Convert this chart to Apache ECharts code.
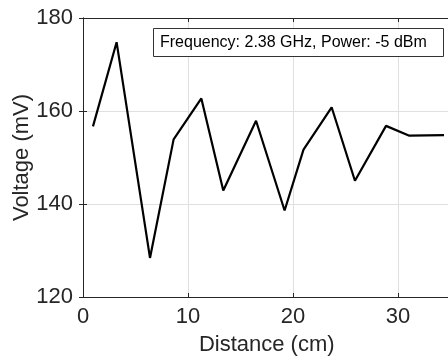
<!DOCTYPE html>
<html>
<head>
<meta charset="utf-8">
<script src="https://cdn.jsdelivr.net/npm/echarts@6/dist/echarts.min.js"></script>
<style>
  html, body { margin: 0; padding: 0; background: #fff; }
  #chart { width: 448px; height: 358px; }
</style>
</head>
<body>
<div id="chart"></div>
<script>
// distance (cm) and measured voltage (mV)
const distance = [0.95, 3.2, 6.38, 8.63, 11.27, 13.36, 16.48, 19.2, 21.0, 23.68, 25.9, 28.86, 31.08, 34.38];
const voltage = [156.7, 174.8, 128.4, 153.9, 162.7, 142.9, 157.9, 138.6, 151.7, 160.8, 145.0, 156.8, 154.7, 154.8];
const legendText = 'Frequency: 2.38 GHz, Power: -5 dBm';

const ink = '#262626';
const gridColor = '#e0e0e0';
const font = 'Liberation Sans, Arial, sans-serif';

const chart = echarts.init(document.getElementById('chart'));

const frameAxis = {
  axisLine: { show: true, lineStyle: { color: ink, width: 1 } },
  axisTick: { show: true, inside: true, length: 4, lineStyle: { color: ink } },
  axisLabel: { show: false },
  splitLine: { show: false }
};

chart.setOption({
  animation: false,
  title: {
    text: legendText,
    left: 153,
    top: 28,
    padding: [6, 17, 5, 7],
    borderColor: '#333',
    borderWidth: 1,
    backgroundColor: '#fff',
    textStyle: { fontFamily: font, fontSize: 16, lineHeight: 18, fontWeight: 'normal', color: '#000' }
  },
  grid: { left: 83, top: 18, width: 367.5, height: 279, outerBoundsMode: 'none', containLabel: false },
  xAxis: [{
    type: 'value',
    min: 0,
    max: 35,
    interval: 10,
    name: 'Distance (cm)',
    nameLocation: 'middle',
    nameGap: 37,
    nameMoveOverlap: false,
    nameTextStyle: { fontFamily: font, fontSize: 22, color: ink },
    axisLine: { show: true, lineStyle: { color: ink, width: 1 } },
    axisTick: { show: true, inside: true, length: 4, lineStyle: { color: ink } },
    axisLabel: { fontFamily: font, fontSize: 22, color: ink, margin: 9, showMaxLabel: false },
    splitLine: { show: true, lineStyle: { color: gridColor, width: 1 } }
  }, Object.assign({ type: 'value', position: 'top', min: 0, max: 35, interval: 10 }, frameAxis)],
  yAxis: [{
    type: 'value',
    min: 120,
    max: 180,
    interval: 20,
    name: 'Voltage (mV)',
    nameLocation: 'middle',
    nameGap: 50,
    nameMoveOverlap: false,
    nameTextStyle: { fontFamily: font, fontSize: 22, color: ink },
    axisLine: { show: true, lineStyle: { color: ink, width: 1 } },
    axisTick: { show: true, inside: true, length: 4, lineStyle: { color: ink } },
    axisLabel: { fontFamily: font, fontSize: 22, color: ink, margin: 10 },
    splitLine: { show: true, lineStyle: { color: gridColor, width: 1 } }
  }, Object.assign({ type: 'value', position: 'right', min: 120, max: 180, interval: 20 }, frameAxis)],
  series: [{
    type: 'line',
    data: distance.map((d, i) => [d, voltage[i]]),
    symbol: 'none',
    lineStyle: { color: '#000', width: 2.2 },
    z: 3
  }]
});
</script>
</body>
</html>
